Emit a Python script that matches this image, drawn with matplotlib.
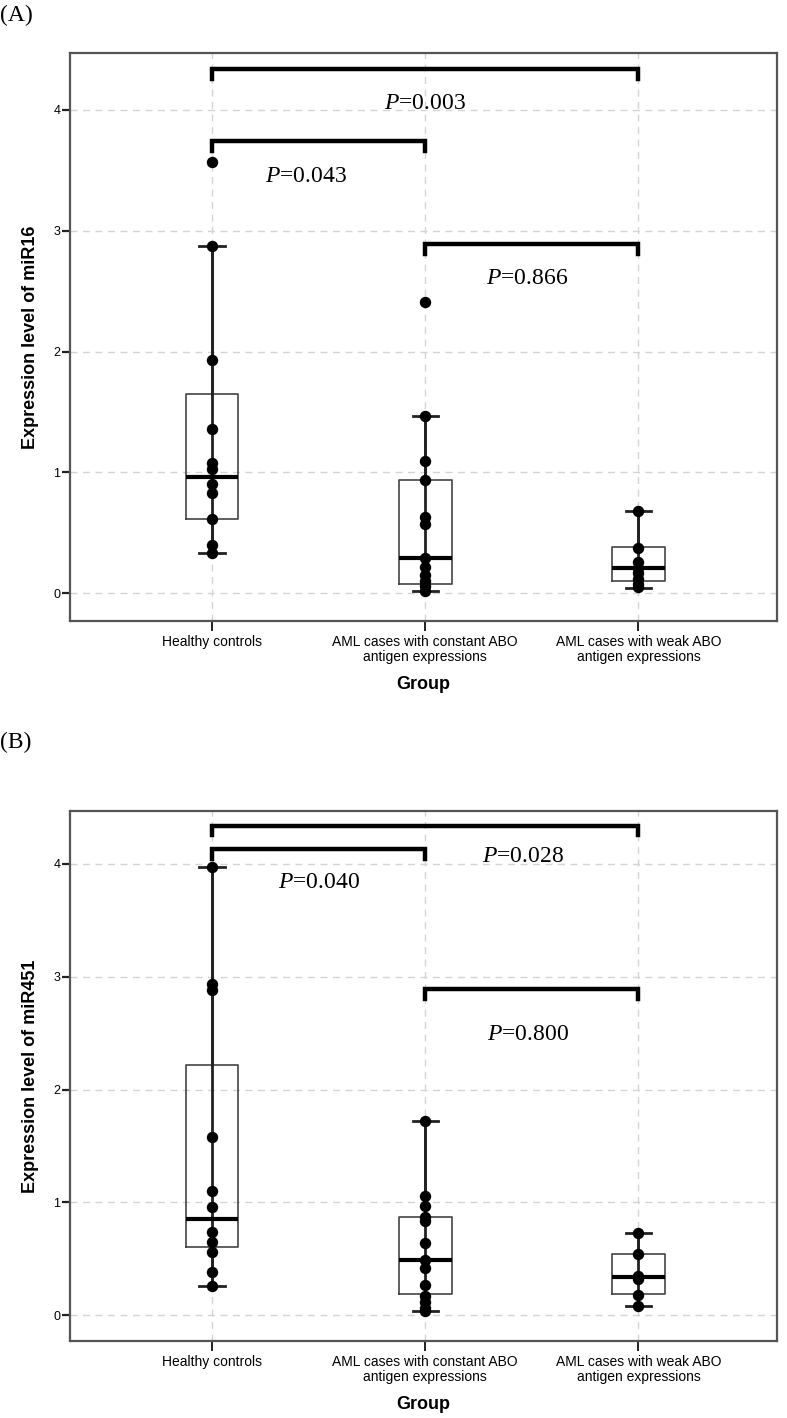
import matplotlib
matplotlib.use("Agg")
import matplotlib.pyplot as plt

# ---------------- data ----------------
categories = ["Healthy controls",
              "AML cases with constant ABO\nantigen expressions",
              "AML cases with weak ABO\nantigen expressions"]

# Panel A: miR16
hc16 = [3.57, 2.87, 1.93, 1.36, 1.08, 1.03, 0.90, 0.83, 0.61, 0.40, 0.33]
const16 = [2.41, 1.47, 1.09, 0.94, 0.63, 0.57, 0.29, 0.22, 0.15, 0.10, 0.06, 0.02]
weak16 = [0.68, 0.37, 0.26, 0.21, 0.17, 0.12, 0.08, 0.05]
# box stats: whislo, q1, med, q3, whishi
box16_hc = [0.33, 0.61, 0.96, 1.645, 2.87]
box16_const = [0.02, 0.08, 0.29, 0.94, 1.47]
box16_weak = [0.04, 0.10, 0.21, 0.38, 0.68]

# Panel B: miR451
hc451 = [3.97, 2.94, 2.88, 1.58, 1.10, 0.96, 0.74, 0.65, 0.56, 0.38, 0.26]
const451 = [1.72, 1.06, 0.97, 0.87, 0.83, 0.64, 0.49, 0.42, 0.27, 0.17, 0.12, 0.06, 0.04]
weak451 = [0.73, 0.54, 0.35, 0.32, 0.18, 0.08]
box451_hc = [0.26, 0.60, 0.85, 2.22, 3.97]
box451_const = [0.04, 0.19, 0.49, 0.87, 1.72]
box451_weak = [0.08, 0.19, 0.34, 0.54, 0.73]

# comparisons: (group i, group j, bracket height, p-text)
comps16 = [(1, 3, 4.34, "0.003"), (1, 2, 3.74, "0.043"), (2, 3, 2.89, "0.866")]
ptext16 = [(2.0, 4.05), (1.44, 3.45), (2.48, 2.60)]
comps451 = [(1, 3, 4.34, "0.028"), (1, 2, 4.13, "0.040"), (2, 3, 2.89, "0.800")]
ptext451 = [(2.46, 4.07), (1.50, 3.84), (2.48, 2.49)]

yticks = [0, 1, 2, 3, 4]

SANS = "Liberation Sans"
SERIF = "Liberation Serif"

plt.rcParams["mathtext.fontset"] = "custom"
plt.rcParams["mathtext.it"] = "Liberation Serif:italic"
plt.rcParams["mathtext.rm"] = "Liberation Serif"

fig = plt.figure(figsize=(7.87, 14.18), dpi=100)


def draw_panel(ax, groups, boxes, comps, ptexts, ylabel):
    pos = [1, 2, 3]
    ax.set_xlim(0.333, 3.65)
    ax.set_ylim(-0.23, 4.47)
    # grid
    for y in yticks:
        ax.axhline(y, color="#d4d4d4", lw=1.0, ls=(0, (5, 4)), zorder=0)
    for x in pos:
        ax.axvline(x, color="#d4d4d4", lw=1.0, ls=(0, (5, 4)), zorder=0)
    stats = []
    for b in boxes:
        stats.append(dict(whislo=b[0], q1=b[1], med=b[2], q3=b[3], whishi=b[4], fliers=[]))
    # whisker line running through the box
    for p, b in zip(pos, boxes):
        ax.plot([p, p], [b[0], b[4]], color="#222222", lw=2.0, zorder=2)
    ax.bxp(stats, positions=pos, widths=0.247, capwidths=0.12, showfliers=False,
           boxprops=dict(color="#444444", lw=1.2),
           medianprops=dict(color="black", lw=3.0),
           whiskerprops=dict(color="#222222", lw=2.0),
           capprops=dict(color="#222222", lw=2.0),
           manage_ticks=False, zorder=3)
    for p, g in zip(pos, groups):
        ax.plot([p] * len(g), g, "o", color="black", ms=7.2, zorder=5, clip_on=False)
    # brackets
    for (i, j, h, pt), (tx, ty) in zip(comps, ptexts):
        ax.plot([i, i, j, j], [h - 0.085, h, h, h - 0.085], color="black", lw=3.2,
                solid_joinstyle="miter", zorder=6)
        ax.text(tx, ty, r"$\it{P}$" + "=" + pt, ha="center", va="center",
                fontsize=17, family=SERIF, zorder=6)
    ax.set_yticks(yticks)
    ax.set_yticklabels([str(v) for v in yticks], fontsize=9, family=SANS)
    ax.set_xticks(pos)
    ax.set_xticklabels(categories, fontsize=10, family=SANS, linespacing=1.1)
    ax.tick_params(axis="y", direction="out", length=6, width=1.6, color="#222222", pad=1)
    ax.tick_params(axis="x", direction="out", length=7, width=1.4, color="#222222", pad=3)
    for s in ax.spines.values():
        s.set_color("#555555")
        s.set_linewidth(1.6)
    ax.set_ylabel(ylabel, fontsize=13, fontweight="bold", family=SANS, labelpad=10)
    ax.set_xlabel("Group", fontsize=13, fontweight="bold", family=SANS, labelpad=9)


W, H = 787, 1418
axA = fig.add_axes([70 / W, 1 - 621 / H, 707 / W, 568 / H])
axB = fig.add_axes([70 / W, 1 - 1341 / H, 707 / W, 530 / H])

draw_panel(axA, [hc16, const16, weak16], [box16_hc, box16_const, box16_weak],
           comps16, ptext16, "Expression level of miR16")
draw_panel(axB, [hc451, const451, weak451], [box451_hc, box451_const, box451_weak],
           comps451, ptext451, "Expression level of miR451")

fig.text(0 / W, 1 - 15 / H, "(A)", fontsize=17, family=SERIF, ha="left", va="center")
fig.text(0 / W, 1 - 742 / H, "(B)", fontsize=17, family=SERIF, ha="left", va="center")

fig.savefig("out.png", dpi=100, facecolor="white")
